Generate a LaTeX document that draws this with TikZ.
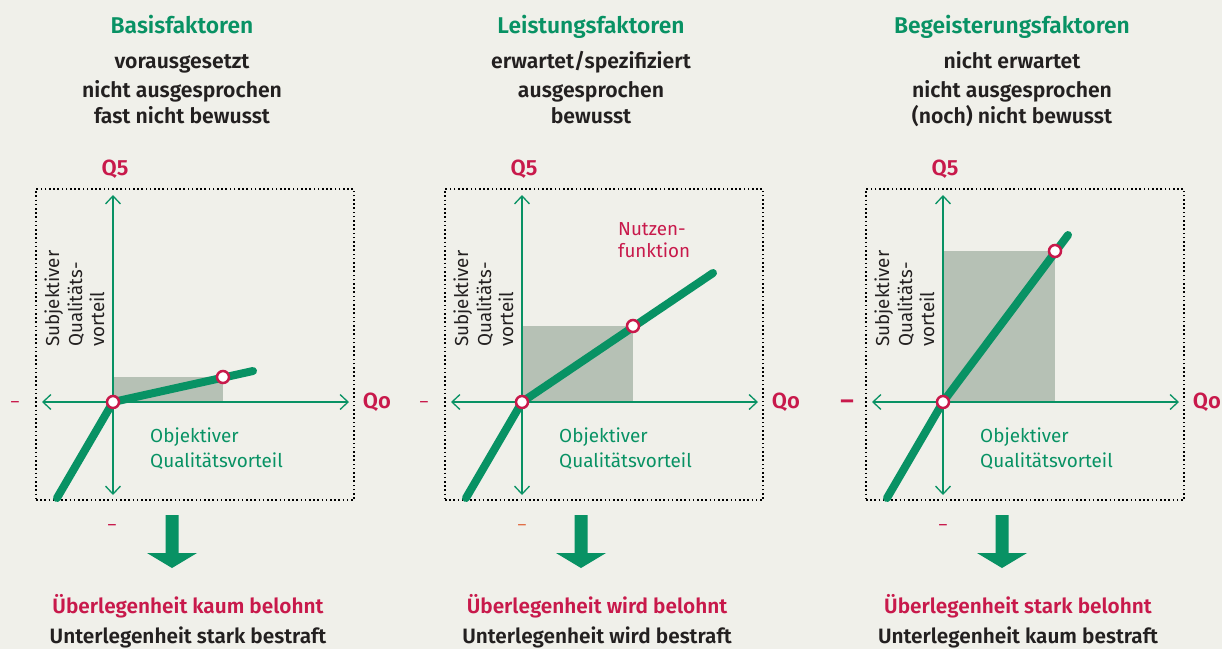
\documentclass[tikz,border=0pt]{standalone}
\usepackage{fontspec}
\setmainfont{Fira Sans}[BoldFont={Fira Sans SemiBold}]
\usetikzlibrary{arrows.meta}
\definecolor{qgreen}{RGB}{8,146,100}
\definecolor{qred}{RGB}{200,25,75}
\definecolor{qbg}{RGB}{240,240,234}
\definecolor{qshade}{RGB}{182,193,181}
\definecolor{qdark}{RGB}{35,32,32}
\definecolor{qorange}{RGB}{225,110,70}
\tikzset{
  ttl/.style={font=\bfseries\fontsize{22.8}{26}\selectfont, text=qgreen, inner sep=0pt, anchor=base},
  sub/.style={font=\bfseries\fontsize{21.2}{24}\selectfont, text=qdark, inner sep=0pt, anchor=base},
  resr/.style={font=\bfseries\fontsize{20.8}{24}\selectfont, text=qred, inner sep=0pt, anchor=base},
  resd/.style={font=\bfseries\fontsize{20.8}{24}\selectfont, text=qdark, inner sep=0pt, anchor=base},
  axlab/.style={font=\fontsize{18.9}{22}\selectfont, text=qgreen, inner sep=0pt, anchor=base west},
  ylab/.style={font=\fontsize{18.8}{22}\selectfont, text=qdark, inner sep=0pt, anchor=base west, rotate=90},
  nlab/.style={font=\fontsize{18.8}{22}\selectfont, text=qred, inner sep=0pt, anchor=base west},
  qlab/.style={font=\bfseries\fontsize{22}{26}\selectfont, text=qred, inner sep=0pt, anchor=base},
  dashlab/.style={font=\fontsize{17}{20}\selectfont, text=qred, inner sep=0pt},
  axis/.style={draw=qgreen, line width=1.3pt, {Straight Barb[length=8pt,width=15pt]}-{Straight Barb[length=8pt,width=15pt]}},
  curve/.style={draw=qgreen, line width=8pt, line cap=round, line join=round},
  pt/.style={circle, draw=qred, fill=white, line width=2.5pt, minimum size=12pt, inner sep=0pt},
  dotbox/.style={draw=black, line width=1.6pt, dash pattern=on 1.6pt off 2.6pt, minimum width=318pt, minimum height=311pt, inner sep=0pt},
  bigarrow/.style={fill=qgreen}
}
\begin{document}
\begin{tikzpicture}[x=1pt,y=-1pt]
\fill[qbg] (0,0) rectangle (1222,649);
\useasboundingbox (0,0) rectangle (1222,649);

\foreach \i/\ox/\ex/\ey/\px/\py in {1/113/140/31/110/25, 2/522/191/129/111/76, 3/943/125/167/112/151}{
  \coordinate (o\i) at (\ox,402);
  \coordinate (c\i) at (\ox+\px,402-\py);
  \coordinate (e\i) at (\ox+\ex,402-\ey);
  \coordinate (s\i) at (\ox-56,498);
  \coordinate (t\i) at (\ox,195);
  \coordinate (b\i) at (\ox,495);
  \coordinate (l\i) at (\ox-71,402);
  \coordinate (r\i) at (\ox+236,402);
  \node[dotbox] (box\i) at (\ox+82,344.5) {};
  \fill[qshade] (o\i) rectangle (c\i);
  \draw[axis] (b\i) -- (t\i);
  \draw[axis] (l\i) -- (r\i);
  \draw[curve] (s\i) -- (o\i) -- (e\i);
  \node[pt] (z\i) at (o\i) {};
  \node[pt] (p\i) at (c\i) {};
  \node[qlab] (qs\i) at (\ox+2,175) {Q5};
  \node[qlab] (qo\i) at (\ox+264,408) {Qo};
  \node[ylab] (ya\i) at (\ox-54,347) {Subjektiver};
  \node[ylab] (yb\i) at (\ox-31,347) {Qualitäts-};
  \node[ylab] (yc\i) at (\ox-9,347) {vorteil};
  \node[axlab] (xa\i) at (\ox+37,442) {Objektiver};
  \node[axlab] (xb\i) at (\ox+37,467) {Qualitätsvorteil};
  \fill[bigarrow] (\ox+52.5,515) -- (\ox+65.5,515) -- (\ox+65.5,553) -- (\ox+84,553)
     -- (\ox+59,568) -- (\ox+34,553) -- (\ox+52.5,553) -- cycle;
}

% minus signs
\node[dashlab] (m1) at (15,404) {–};
\node[dashlab] (m2) at (424,404) {–};
\node[dashlab, font=\bfseries\fontsize{26}{30}\selectfont] (m3) at (847,405) {–};
\node[dashlab] (n1) at (112,527) {–};
\node[dashlab, text=qorange] (n2) at (522,527) {–};
\node[dashlab] (n3) at (943,527) {–};

% Nutzenfunktion
\node[nlab] (nu1) at (618,235) {Nutzen-};
\node[nlab] (nu2) at (618,257) {funktion};

% titles
\node[ttl] (t1) at (182,33) {Basisfaktoren};
\node[sub] (s1a) at (182,68) {vorausgesetzt};
\node[sub] (s1b) at (182,97) {nicht ausgesprochen};
\node[sub] (s1c) at (182,123) {fast nicht bewusst};

\node[ttl] (t2) at (591,33) {Leistungsfaktoren};
\node[sub] (s2a) at (591,68) {erwartet/spezifiziert};
\node[sub] (s2b) at (591,97) {ausgesprochen};
\node[sub] (s2c) at (591,123) {bewusst};

\node[ttl] (t3) at (1012,33) {Begeisterungsfaktoren};
\node[sub] (s3a) at (1012,68) {nicht erwartet};
\node[sub] (s3b) at (1012,97) {nicht ausgesprochen};
\node[sub] (s3c) at (1012,123) {(noch) nicht bewusst};

% results
\node[resr] (r1a) at (188,613) {Überlegenheit kaum belohnt};
\node[resd] (r1b) at (188,643) {Unterlegenheit stark bestraft};
\node[resr] (r2a) at (597,613) {Überlegenheit wird belohnt};
\node[resd] (r2b) at (597,643) {Unterlegenheit wird bestraft};
\node[resr] (r3a) at (1018,613) {Überlegenheit stark belohnt};
\node[resd] (r3b) at (1018,643) {Unterlegenheit kaum bestraft};
\end{tikzpicture}
\end{document}
